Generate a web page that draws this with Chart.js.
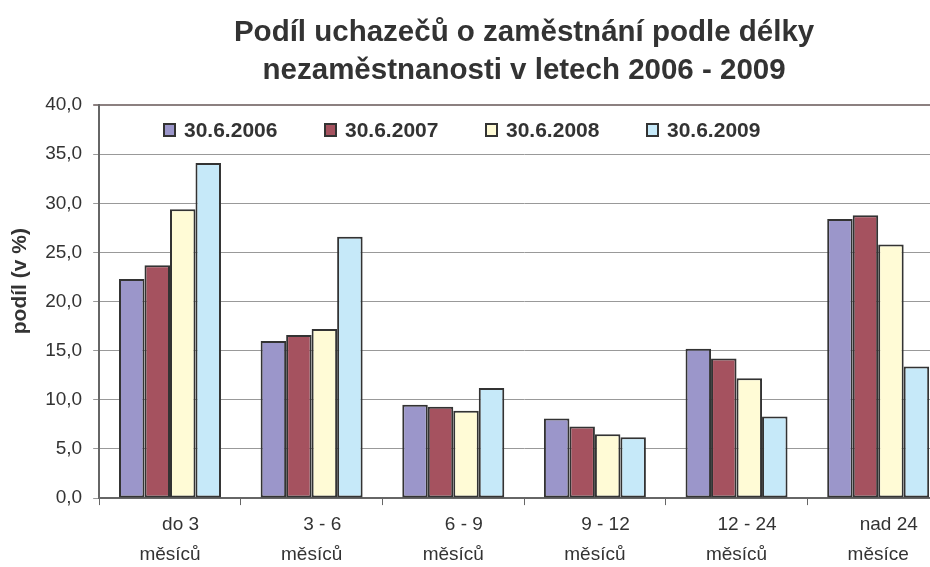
<!DOCTYPE html>
<html>
<head>
<meta charset="utf-8">
<script src="https://cdn.jsdelivr.net/npm/chart.js@4"></script>
<style>
  html, body { margin: 0; padding: 0; overflow: hidden; background: #fff; }
  #wrap { position: relative; width: 950px; height: 574px; }
  #legend { position: absolute; top: 118px; left: 163px; display: flex; font: bold 21px "Liberation Sans", Arial, sans-serif; color: #333; }
  #legend span.item { display: flex; align-items: center; width: 161px; }
  #legend span.box { width: 9px; height: 10px; border: 2px solid #333; margin-right: 8px; }
</style>
</head>
<body>
<div id="wrap">
  <canvas id="c" width="950" height="574"></canvas>
  <div id="legend"></div>
</div>
<script>
const categories = [['    do 3', 'měsíců'], ['    3 - 6', 'měsíců'], ['    6 - 9', 'měsíců'], ['    9 - 12', 'měsíců'], ['    12 - 24', 'měsíců'], ['    nad 24', 'měsíce']];
const seriesNames = ['30.6.2006', '30.6.2007', '30.6.2008', '30.6.2009'];
const seriesColors = ['#9B96CA', '#A5525F', '#FFFBD6', '#C6E9F9'];
const v2006 = [22.3, 16.0, 9.5, 8.1, 15.2, 28.4];
const v2007 = [23.7, 16.6, 9.3, 7.3, 14.2, 28.8];
const v2008 = [29.4, 17.2, 8.9, 6.5, 12.2, 25.8];
const v2009 = [34.1, 26.6, 11.2, 6.2, 8.3, 13.4];
const seriesValues = [v2006, v2007, v2008, v2009];

const font = '"Liberation Sans", Arial, sans-serif';

const datasets = seriesNames.map((name, i) => ({
  label: name,
  data: seriesValues[i],
  backgroundColor: seriesColors[i],
  borderColor: '#333333',
  borderWidth: 2,
  borderSkipped: false,
  categoryPercentage: 0.72,
  barPercentage: 1.0
}));

const legend = document.getElementById('legend');
datasets.forEach(d => {
  const item = document.createElement('span');
  item.className = 'item';
  item.innerHTML = '<span class="box" style="background:' + d.backgroundColor + '"></span>' + d.label;
  legend.appendChild(item);
});

new Chart(document.getElementById('c'), {
  type: 'bar',
  data: { labels: categories, datasets },
  options: {
    responsive: false,
    animation: false,
    layout: { padding: { left: 8, right: 1, top: 14, bottom: 0 } },
    plugins: {
      legend: { display: false },
      tooltip: { enabled: false },
      title: {
        display: true,
        fullSize: false,
        text: ['Podíl uchazečů o zaměstnání podle délky', 'nezaměstnanosti v letech 2006 - 2009'],
        color: '#333333',
        font: { family: font, size: 29.5, weight: 'bold', lineHeight: 1.29 },
        padding: { top: 0, bottom: 15 }
      }
    },
    scales: {
      x: {
        grid: { offset: true, drawOnChartArea: false, tickLength: 7, color: '#666666', lineWidth: 1 },
        border: { color: '#666666', width: 2 },
        ticks: { color: '#333333', font: { family: font, size: 19, lineHeight: 1.55 }, padding: 5, maxRotation: 0 }
      },
      y: {
        min: 0,
        max: 40,
        ticks: {
          stepSize: 5,
          color: '#333333',
          font: { family: font, size: 19 },
          padding: 11,
          callback: v => v.toFixed(1).replace('.', ',')
        },
        grid: {
          tickLength: 6,
          color: ctx => ctx.tick && ctx.tick.value === 40 ? '#8c8080' : '#999999',
          lineWidth: ctx => ctx.tick && ctx.tick.value === 40 ? 2 : 1
        },
        border: { color: '#666666', width: 2 },
        title: {
          display: true,
          text: '       podíl (v %)',
          color: '#333333',
          font: { family: font, size: 21, weight: 'bold' },
          padding: { top: 0, bottom: 1 }
        }
      }
    }
  }
});
</script>
</body>
</html>
